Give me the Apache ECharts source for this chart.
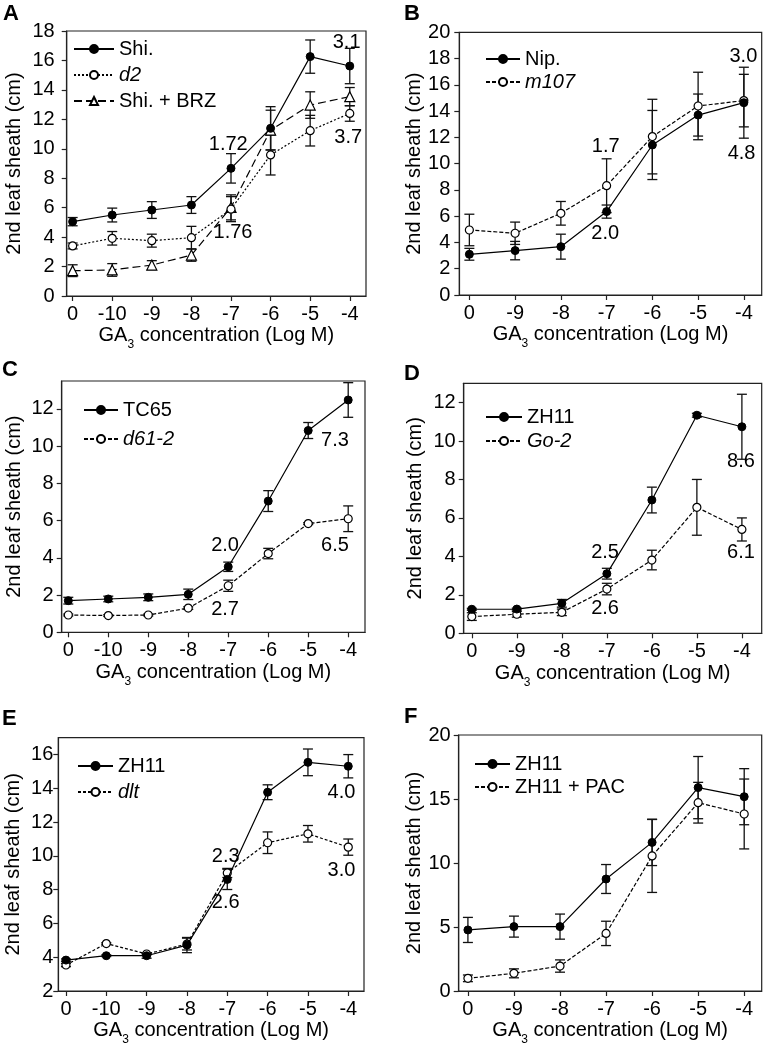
<!DOCTYPE html>
<html><head><meta charset="utf-8">
<script src="https://cdn.jsdelivr.net/npm/echarts@6/dist/echarts.min.js"></script>
<style>html,body{margin:0;padding:0;background:#fff}#c{width:764px;height:1047px}</style>
</head><body><div id="c"></div>
<script>
// ---------- Panel A ----------
const catsA = ['0','-10','-9','-8','-7','-6','-5','-4'];
const yTicksA = [0,2,4,6,8,10,12,14,16,18];
const shiA = [5.05,5.5,5.84,6.18,8.67,11.39,16.26,15.62];
const shiAErr = [0.28,0.47,0.57,0.57,1.0,1.47,1.13,1.2];
const d2A = [3.4,3.92,3.76,3.96,5.9,9.58,11.23,12.4];
const d2AErr = [0.2,0.46,0.44,0.77,0.85,1.36,1.04,0.53];
const brzA = [1.72,1.77,2.1,2.78,6.02,11.27,12.97,13.54];
const brzAErr = [0.4,0.43,0.3,0.42,0.85,1.35,0.9,0.62];
const notesA = [['3.1',6.92,17.2],['1.72',3.93,10.3],['1.76',4.05,4.3],['3.7',6.96,10.8]];

// ---------- Panel B ----------
const catsB = ['0','-9','-8','-7','-6','-5','-4'];
const yTicksB = [0,2,4,6,8,10,12,14,16,18,20];
const nipB = [3.1,3.38,3.68,6.35,11.42,13.7,14.64];
const nipBErr = [0.45,0.7,0.95,0.5,2.63,1.6,2.7];
const m107B = [4.95,4.7,6.22,8.32,12.06,14.39,14.8];
const m107BErr = [1.2,0.85,0.9,2.05,2.84,2.57,2.0];
const notesB = [['1.7',2.98,11.3],['2.0',2.97,4.7],['3.0',5.99,18.15],['4.8',5.95,10.8]];

// ---------- Panel C ----------
const catsC = ['0','-10','-9','-8','-7','-6','-5','-4'];
const yTicksC = [0,2,4,6,8,10,12];
const tc65C = [1.7,1.79,1.88,2.04,3.52,7.05,10.84,12.48];
const tc65CErr = [0.18,0.15,0.18,0.28,0.25,0.56,0.43,0.93];
const d61C = [0.93,0.9,0.93,1.3,2.5,4.23,5.84,6.1];
const d61CErr = [0.05,0.05,0.05,0.07,0.3,0.28,0.05,0.69];
const notesC = [['2.0',3.92,4.68],['2.7',3.92,1.2],['7.3',6.67,10.3],['6.5',6.67,4.68]];

// ---------- Panel D ----------
const catsD = ['0','-9','-8','-7','-6','-5','-4'];
const yTicksD = [0,2,4,6,8,10,12];
const zhD = [1.25,1.26,1.56,3.1,6.93,11.34,10.74];
const zhDErr = [0.05,0.05,0.2,0.28,0.67,0.1,1.69];
const goD = [0.87,0.99,1.09,2.3,3.81,6.55,5.4];
const goDErr = [0.2,0.15,0.17,0.3,0.51,1.45,0.6];
const notesD = [['2.5',2.96,4.2],['2.6',2.96,1.3],['8.6',5.98,8.92],['6.1',5.98,4.2]];

// ---------- Panel E ----------
const catsE = ['0','-10','-9','-8','-7','-6','-5','-4'];
const yTicksE = [2,4,6,8,10,12,14,16];
const zhE = [3.83,4.09,4.09,4.72,8.61,13.77,15.54,15.31];
const zhEErr = [0.07,0.05,0.15,0.45,0.6,0.44,0.79,0.69];
const dltE = [3.54,4.81,4.19,4.78,8.99,10.78,11.31,10.52];
const dltEErr = [0.1,0.05,0.05,0.35,0.27,0.64,0.49,0.48];
const notesE = [['2.3',3.96,9.99],['2.6',3.96,7.24],['4.0',6.83,13.77],['3.0',6.83,9.15]];

// ---------- Panel F ----------
const catsF = ['0','-9','-8','-7','-6','-5','-4'];
const yTicksF = [0,5,10,15,20];
const zhF = [4.77,5.03,5.03,8.75,11.61,15.89,15.18];
const zhFErr = [0.98,0.82,0.98,1.13,1.81,2.43,2.19];
const pacF = [0.99,1.38,1.95,4.5,10.55,14.71,13.83];
const pacFErr = [0.26,0.35,0.48,0.95,2.85,1.59,2.73];
const notesF = [];

const FONT = '"Liberation Sans", Arial, Helvetica, sans-serif';
const FS = 20;
const ITALIC = new Set(['d2','m107','d61-2','Go-2','dlt']);

const panels = [
  {letter:'A', lpos:[3,3], box:[66.7,31,299.3,265], xr:[-0.15,7.41], yr:[0,18], cats:catsA, yticks:yTicksA, notes:notesA,
   ylm:12, yng:42, xng:22, leg:{left:73, top:39, gap:6, w:40},
   series:[{name:'Shi.', v:shiA, e:shiAErr, kind:'filled'},
           {name:'d2', v:d2A, e:d2AErr, kind:'open', dash:[2,2]},
           {name:'Shi. + BRZ', v:brzA, e:brzAErr, kind:'tri', dash:[8,4]}]},
  {letter:'B', lpos:[404,3], box:[459.3,32.3,302.4,262.7], xr:[-0.22,6.39], yr:[0,20], cats:catsB, yticks:yTicksB, notes:notesB,
   ylm:9, yng:34, xng:23, leg:{left:485, top:49, gap:3, w:34},
   series:[{name:'Nip.', v:nipB, e:nipBErr, kind:'filled'},
           {name:'m107', v:m107B, e:m107BErr, kind:'open', dash:[4,2]}]},
  {letter:'C', lpos:[2,359], box:[61.7,381,303.3,251.3], xr:[-0.165,7.42], yr:[0,13.5], cats:catsC, yticks:yTicksC, notes:notesC,
   ylm:8, yng:37, xng:29, leg:{left:83, top:400, gap:9, w:34},
   series:[{name:'TC65', v:tc65C, e:tc65CErr, kind:'filled'},
           {name:'d61-2', v:d61C, e:d61CErr, kind:'open', dash:[4,2]}]},
  {letter:'D', lpos:[404,363], box:[463.7,383.3,298,250], xr:[-0.18,6.44], yr:[0,13], cats:catsD, yticks:yTicksD, notes:notesD,
   ylm:8, yng:38, xng:28, leg:{left:485, top:407, gap:4, w:36},
   series:[{name:'ZH11', v:zhD, e:zhDErr, kind:'filled'},
           {name:'Go-2', v:goD, e:goDErr, kind:'open', dash:[4,2]}]},
  {letter:'E', lpos:[2,708], box:[58.3,737.7,305.7,253.3], xr:[-0.19,7.39], yr:[2,17], cats:catsE, yticks:yTicksE, notes:notesE,
   ylm:5, yng:35, xng:27, leg:{left:77, top:756, gap:6, w:35},
   series:[{name:'ZH11', v:zhE, e:zhEErr, kind:'filled'},
           {name:'dlt', v:dltE, e:dltEErr, kind:'open', dash:[3,2]}]},
  {letter:'F', lpos:[404,706], box:[458.7,735,303,256], xr:[-0.2,6.38], yr:[0,20], cats:catsF, yticks:yTicksF, notes:notesF,
   ylm:8, yng:34, xng:27, leg:{left:474, top:754, gap:3, w:35},
   series:[{name:'ZH11', v:zhF, e:zhFErr, kind:'filled'},
           {name:'ZH11 + PAC', v:pacF, e:pacFErr, kind:'open', dash:[4,2]}]}
];

function errRender(params, api){
  const x = api.value(0), m = api.value(1), e = api.value(2);
  const t = api.coord([x, m + e]), b = api.coord([x, m - e]);
  const w = 5, st = {stroke:'#111', lineWidth:1.3};
  return {type:'group', children:[
    {type:'line', shape:{x1:t[0], y1:t[1], x2:b[0], y2:b[1]}, style:st},
    {type:'line', shape:{x1:t[0]-w, y1:t[1], x2:t[0]+w, y2:t[1]}, style:st},
    {type:'line', shape:{x1:b[0]-w, y1:b[1], x2:b[0]+w, y2:b[1]}, style:st}
  ]};
}

function noteRender(params, api){
  const c = api.coord([api.value(0), api.value(1)]);
  return {type:'text', x:c[0], y:c[1], style:{text:params.context.notes[params.dataIndex][0],
    align:'center', verticalAlign:'middle', fill:'#000', fontSize:FS, fontFamily:FONT}};
}

const option = {animation:false, backgroundColor:'#fff', textStyle:{fontFamily:FONT},
  title:[], grid:[], xAxis:[], yAxis:[], legend:[], series:[]};

panels.forEach((p, k) => {
  option.title.push({text:p.letter, left:p.lpos[0], top:p.lpos[1], padding:0,
    textStyle:{fontSize:22, fontWeight:'bold', color:'#000', fontFamily:FONT}});
  option.grid.push({left:p.box[0], top:p.box[1], width:p.box[2], height:p.box[3], show:true,
    borderColor:'#222', borderWidth:1.2, backgroundColor:'transparent', containLabel:false});
  const idx = p.cats.map((c, i) => i);
  option.xAxis.push({type:'value', gridIndex:k, min:p.xr[0], max:p.xr[1],
    name:'GA{s|3} concentration (Log M)', nameLocation:'middle', nameGap:p.xng,
    nameTextStyle:{fontSize:FS, color:'#000', fontFamily:FONT, lineHeight:22,
      rich:{s:{fontSize:12, fontFamily:FONT, color:'#000', padding:[14,0,0,0], verticalAlign:'top'}}},
    axisLine:{show:true, onZero:false, lineStyle:{color:'#222', width:1.2}},
    axisTick:{show:true, length:5, lineStyle:{color:'#222', width:1.2}, customValues:idx},
    axisLabel:{fontSize:FS, color:'#000', fontFamily:FONT, margin:8, customValues:idx,
      formatter:(v) => p.cats[Math.round(v)]},
    splitLine:{show:false}});
  option.yAxis.push({type:'value', gridIndex:k, min:p.yr[0], max:p.yr[1],
    name:'2nd leaf sheath (cm)', nameLocation:'middle', nameGap:p.yng,
    nameTextStyle:{fontSize:FS, color:'#000', fontFamily:FONT},
    axisLine:{show:true, onZero:false, lineStyle:{color:'#222', width:1.2}},
    axisTick:{show:true, length:5, lineStyle:{color:'#222', width:1.2}, customValues:p.yticks},
    axisLabel:{fontSize:FS, color:'#000', fontFamily:FONT, margin:p.ylm, customValues:p.yticks},
    splitLine:{show:false}});
  option.legend.push({orient:'vertical', left:p.leg.left, top:p.leg.top, padding:0, itemGap:p.leg.gap,
    itemWidth:p.leg.w, itemHeight:10, selectedMode:false, data:p.series.map(s => s.name),
    formatter:(n) => ITALIC.has(n) ? '{i|' + n + '}' : n,
    textStyle:{fontSize:FS, color:'#000', fontFamily:FONT,
      rich:{i:{fontSize:FS, fontStyle:'italic', color:'#000', fontFamily:FONT}}}});
  p.series.forEach((s, j) => {
    option.series.push({type:'custom', name:'err' + k + '_' + j, xAxisIndex:k, yAxisIndex:k,
      renderItem:errRender, data:s.v.map((m, i) => [i, m, s.e[i]]), encode:{x:0, y:1}, z:2, silent:true});
  });
  p.series.forEach((s, j) => {
    const open = s.kind !== 'filled';
    option.series.push({type:'line', name:s.name, xAxisIndex:k, yAxisIndex:k,
      data:s.v.map((m, i) => [i, m]),
      symbol:s.kind === 'tri' ? 'triangle' : 'circle', symbolSize:s.kind === 'tri' ? 10 : 8,
      showSymbol:true, z:4 - j * 0.1,
      lineStyle:{color:'#000', width:1.2, type:s.dash || 'solid'},
      itemStyle:open ? {color:'#fff', borderColor:'#000', borderWidth:1.2} : {color:'#000', borderColor:'#000', borderWidth:1},
      emphasis:{disabled:true}});
  });
  if (p.notes.length) {
    const notes = p.notes;
    option.series.push({type:'custom', name:'notes' + k, xAxisIndex:k, yAxisIndex:k, silent:true, z:6,
      renderItem:(params, api) => { params.context.notes = notes; return noteRender(params, api); },
      data:notes.map(n => [n[1], n[2]]), encode:{x:0, y:1}, clip:false});
  }
});

const chart = echarts.init(document.getElementById('c'), null, {renderer:'canvas'});
chart.setOption(option);
</script></body></html>
